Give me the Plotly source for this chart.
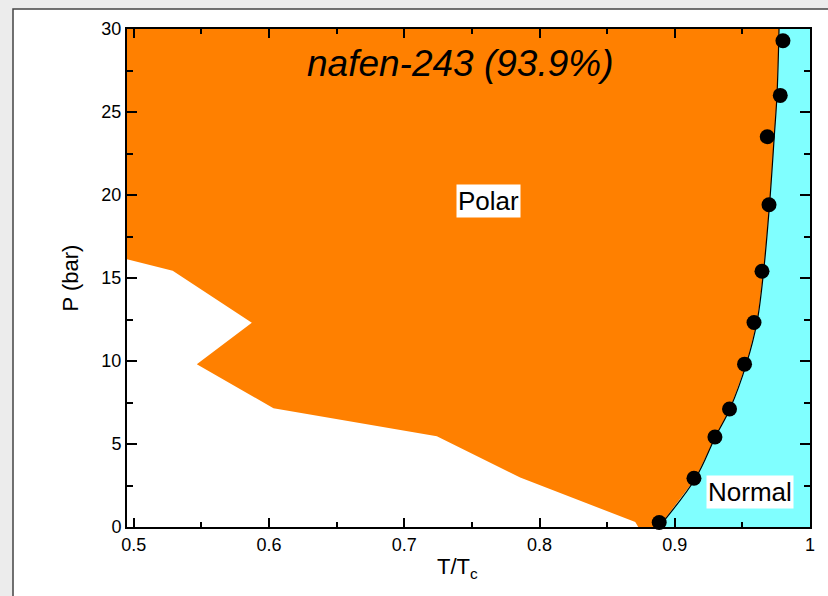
import plotly.graph_objects as go

# Measured points (T/Tc, P in bar)
T_dots = [0.8885, 0.9142, 0.9297, 0.9405, 0.9516, 0.9586, 0.9645, 0.9697, 0.9684, 0.9780, 0.9800]
P_dots = [0.27, 2.94, 5.42, 7.11, 9.81, 12.32, 15.41, 19.41, 23.51, 26.00, 29.29]

# Fitted boundary curve (polar / normal)
T_curve = [0.8883, 0.9154, 0.9299, 0.9410, 0.9529, 0.9608, 0.9657, 0.9701, 0.9736, 0.9756, 0.9771]
P_curve = [0.0, 2.94, 5.41, 7.16, 9.81, 12.34, 15.41, 19.45, 23.55, 26.02, 30.0]

# Lower edge of polar region
T_low = [0.8730, 0.8708, 0.7857, 0.7241, 0.6033, 0.5466, 0.5873, 0.5288, 0.4900]
P_low = [0.0, 0.30, 2.98, 5.47, 7.15, 9.81, 12.30, 15.43, 16.24]

x_range = [0.495, 1.0]
y_range = [0, 30]

ORANGE = "#ff8000"
CYAN = "#80ffff"
FONT = "Liberation Sans, Arial, sans-serif"

fig = go.Figure()

# Normal (cyan) region
fig.add_trace(go.Scatter(
    x=T_curve + [1.01, 1.01], y=P_curve + [30.0, 0.0],
    fill="toself", fillcolor=CYAN, mode="none", hoverinfo="skip", showlegend=False))

# Polar (orange) region
fig.add_trace(go.Scatter(
    x=[0.49] + T_curve[::-1] + T_low,
    y=[30.0] + P_curve[::-1] + P_low,
    fill="toself", fillcolor=ORANGE, mode="none", hoverinfo="skip", showlegend=False))

# Boundary line
fig.add_trace(go.Scatter(
    x=T_curve, y=P_curve, mode="lines", line=dict(color="black", width=1.2, shape="spline"),
    hoverinfo="skip", showlegend=False))

# Data points
fig.add_trace(go.Scatter(
    x=T_dots, y=P_dots, mode="markers", marker=dict(color="black", size=15),
    cliponaxis=False, showlegend=False))

axis_common = dict(
    showline=True, linecolor="black", linewidth=2, mirror="ticks",
    ticks="inside", tickcolor="black", tickwidth=2, showgrid=False, zeroline=False,
    tickfont=dict(family=FONT, size=18, color="black"),
)

fig.update_xaxes(range=x_range, dtick=0.1, tick0=0.5, ticklen=9,
                 minor=dict(dtick=0.05, ticks="inside", ticklen=5, tickcolor="black", tickwidth=1.5),
                 **axis_common)
fig.update_yaxes(range=y_range, dtick=5, ticklen=10,
                 minor=dict(dtick=2.5, ticks="inside", ticklen=6, tickcolor="black", tickwidth=1.5),
                 title=dict(text="P (bar)", font=dict(family=FONT, size=22, color="black"), standoff=17),
                 **axis_common)

# x-axis title (placed slightly left of centre, as in the original)
fig.add_annotation(x=0.4846, y=-0.082, xref="paper", yref="paper", showarrow=False,
                   xanchor="center", yanchor="middle",
                   text="T/T<sub>c</sub>", font=dict(family=FONT, size=22, color="black"))

fig.add_annotation(x=0.7414, y=27.94, xref="x", yref="y", showarrow=False,
                   text="<i>nafen-243 (93.9%)</i>", font=dict(family=FONT, size=37, color="black"))
fig.add_annotation(x=0.7621, y=19.63, xref="x", yref="y", showarrow=False,
                   text="Polar", bgcolor="white", borderpad=1,
                   font=dict(family=FONT, size=26, color="black"))
fig.add_annotation(x=0.9556, y=2.11, xref="x", yref="y", showarrow=False,
                   text="Normal", bgcolor="white", borderpad=1,
                   font=dict(family=FONT, size=26, color="black"))

# Window frame
fig.add_shape(type="rect", xref="paper", yref="paper", x0=-0.1669, y0=-1, x1=2, y1=1.0402,
              fillcolor="white", line=dict(color="#444444", width=1.5), layer="below")

fig.update_layout(
    width=828, height=596,
    margin=dict(l=127, r=18, t=29, b=69),
    paper_bgcolor="#ececec", plot_bgcolor="white",
    font=dict(family=FONT, color="black"),
)

fig.write_html("out.html", config={"displayModeBar": False},
               post_script="document.body.style.margin='0';document.body.style.overflow='hidden';")
